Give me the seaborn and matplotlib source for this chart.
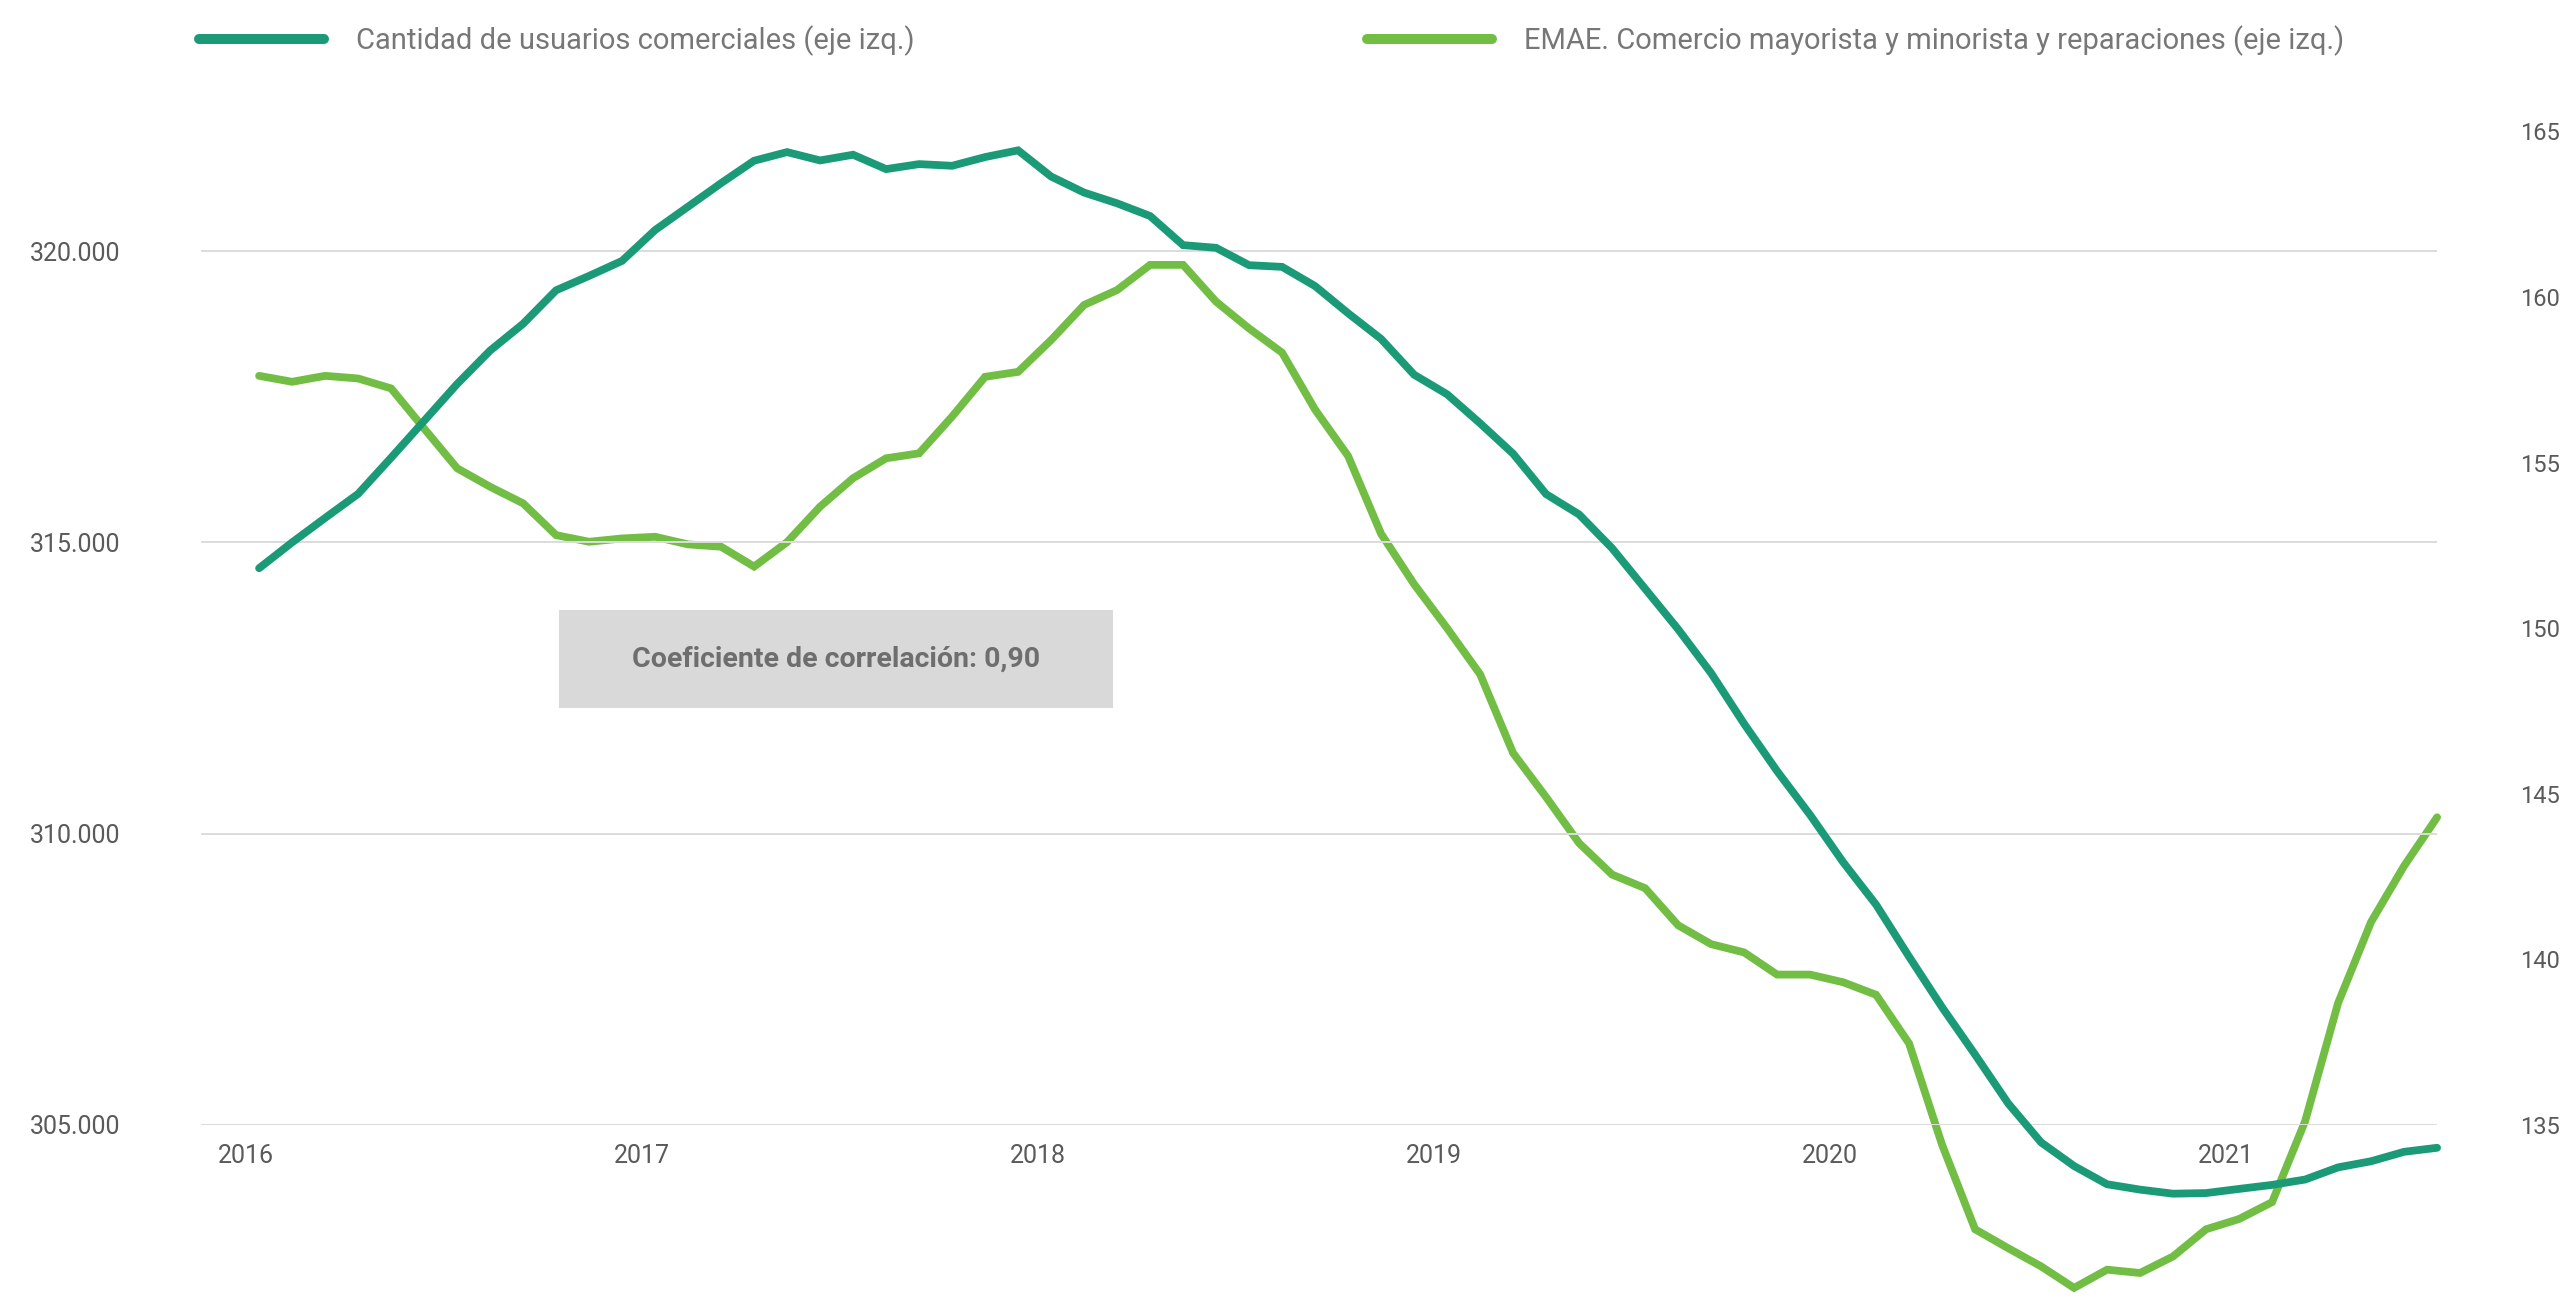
"""
Usuarios comerciales vs EMAE comercio - dual axis line chart
"""
import numpy as np
import pandas as pd
import matplotlib
matplotlib.use("Agg")
import matplotlib.pyplot as plt
from matplotlib.patches import Rectangle
from matplotlib.ticker import FuncFormatter
import seaborn as sns

# ── data (monthly, Jan-2016 .. Jul-2021) ─────────────────────────────────────
MONTHS = pd.date_range("2016-01-01", periods=67, freq="MS")

USUARIOS = [314557, 315000, 315420, 315833, 316454, 317086, 317719, 318293,
            318753, 319328, 319575, 319833, 320362, 320764, 321167, 321552,
            321700, 321557, 321655, 321408, 321494, 321465, 321615, 321730,
            321281, 321005, 320821, 320603, 320103, 320057, 319759, 319730,
            319400, 318934, 318493, 317879, 317543, 317045, 316523, 315829,
            315480, 314900, 314205, 313510, 312757, 311887, 311075, 310322,
            309512, 308781, 307888, 307020, 306208, 305372, 304701, 304295,
            303982, 303890, 303820, 303831, 303902, 303971, 304063, 304272,
            304377, 304539, 304608]

EMAE = [157.62, 157.44, 157.62, 157.54, 157.24, 156.03, 154.83, 154.27,
        153.77, 152.81, 152.61, 152.71, 152.76, 152.53, 152.46, 151.86,
        152.60, 153.67, 154.53, 155.13, 155.28, 156.39, 157.59, 157.74,
        158.70, 159.76, 160.21, 160.97, 160.97, 159.86, 159.05, 158.32,
        156.60, 155.20, 152.85, 151.33, 150.00, 148.61, 146.23, 144.90,
        143.51, 142.56, 142.15, 141.03, 140.46, 140.21, 139.54, 139.54,
        139.31, 138.93, 137.46, 134.40, 131.85, 131.28, 130.73, 130.08,
        130.63, 130.53, 131.03, 131.85, 132.16, 132.67, 135.11, 138.68,
        141.13, 142.82, 144.29]

YEARS = ["2016", "2017", "2018", "2019", "2020", "2021"]
LEFT_TICKS = [305000, 310000, 315000, 320000]
RIGHT_TICKS = [135, 140, 145, 150, 155, 160, 165]

LABEL_USU = "Cantidad de usuarios comerciales (eje izq.)"
LABEL_EMAE = "EMAE. Comercio mayorista y minorista y reparaciones (eje izq.)"
NOTE = "Coeficiente de correlación: 0,90"

# ── style ────────────────────────────────────────────────────────────────────
DARK_GREEN = "#1b9a78"
LIGHT_GREEN = "#72be44"
GRID = "#dcdcdc"
TICK_COL = "#5a5a5a"
LEG_COL = "#777777"

sns.set_theme(style="white")
plt.rcParams["font.family"] = ["Roboto", "DejaVu Sans"]

df = pd.DataFrame({"idx": np.arange(len(MONTHS)), "mes": MONTHS,
                   "usuarios": USUARIOS, "emae": EMAE})

fig = plt.figure(figsize=(25.64, 13.09), dpi=100)
ax = fig.add_axes([0.0784, 0.1406, 0.8721, 0.7590])
ax2 = ax.twinx()

sns.lineplot(data=df, x="idx", y="usuarios", ax=ax, color=DARK_GREEN,
             linewidth=5.6, solid_capstyle="round", solid_joinstyle="miter",
             clip_on=False, zorder=3, label=LABEL_USU, legend=False)
sns.lineplot(data=df, x="idx", y="emae", ax=ax2, color=LIGHT_GREEN,
             linewidth=5.6, solid_capstyle="round", solid_joinstyle="miter",
             clip_on=False, zorder=3, label=LABEL_EMAE, legend=False)

# axes ranges
ax.set_xlim(-1.76, 66.0)
ax.set_ylim(305000, 322055)
ax2.set_ylim(135, 165)

# left axis: gridlines + labels
ax.set_yticks(LEFT_TICKS)
ax.yaxis.set_major_formatter(FuncFormatter(lambda v, p: f"{v:,.0f}".replace(",", ".")))
ax.grid(axis="y", color=GRID, linewidth=1.4)
ax.grid(axis="x", visible=False)
ax.tick_params(axis="y", length=0, pad=58, labelsize=18, labelcolor=TICK_COL)

# right axis labels only
ax2.set_yticks(RIGHT_TICKS)
ax2.grid(False)
ax2.tick_params(axis="y", length=0, pad=60, labelsize=17, labelcolor=TICK_COL)

# x labels at the year boundaries
year_pos = 12 * np.arange(len(YEARS)) - 0.4
ax.set_xticks(year_pos)
ax.set_xticklabels(YEARS)
ax.tick_params(axis="x", length=0, pad=14, labelsize=18, labelcolor=TICK_COL)

for a in (ax, ax2):
    a.set_xlabel("")
    a.set_ylabel("")
    for s in a.spines.values():
        s.set_visible(False)
ax.set_zorder(ax2.get_zorder() + 1)
ax.patch.set_visible(False)

# correlation note
ax.add_patch(Rectangle((0.1601, 0.4197), 0.2478, 0.0986, transform=ax.transAxes,
                       facecolor="#d9d9d9", edgecolor="none", zorder=1))
ax.text(0.1601 + 0.2478 / 2, 0.4197 + 0.0986 / 2, NOTE, transform=ax.transAxes,
        ha="center", va="center", fontsize=20.5, fontweight="bold",
        color="#6e6e6e", zorder=2)

# legend (two entries spread across the top)
h1 = ax.get_lines()[0]
h2 = ax2.get_lines()[0]
for handle, label, xpos in ((h1, LABEL_USU, 199 / 2564), (h2, LABEL_EMAE, 1367 / 2564)):
    leg = fig.legend([handle], [label], loc="center left",
                     bbox_to_anchor=(xpos, 1 - 41 / 1309), frameon=False,
                     fontsize=21, handlelength=4.3, handletextpad=1.1,
                     borderpad=0, borderaxespad=0)
    for t in leg.get_texts():
        t.set_color(LEG_COL)
    for ln in leg.get_lines():
        ln.set_linewidth(7.2)
        ln.set_solid_capstyle("round")

fig.savefig("out.png", dpi=100)
plt.close(fig)
